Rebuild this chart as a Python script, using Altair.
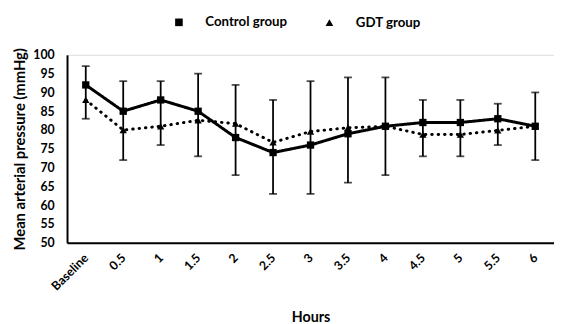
import altair as alt
import pandas as pd

hours = ["Baseline", "0.5", "1", "1.5", "2", "2.5", "3", "3.5", "4", "4.5", "5", "5.5", "6"]
control = [92, 85, 88, 85, 78, 74, 76, 79, 81, 82, 82, 83, 81]
gdt = [88, 80, 81, 82.6, 81.7, 76.7, 79.6, 80.6, 81, 78.8, 78.8, 79.9, 81]
err_high = [97, 93, 93, 95, 92, 88, 93, 94, 94, 88, 88, 87, 90]
err_low = [83, 72, 76, 73, 68, 63, 63, 66, 68, 73, 73, 76, 72]
y_ticks = [50, 55, 60, 65, 70, 75, 80, 85, 90, 95, 100]
groups = ["Control group", "GDT group"]

rows = []
for i, h in enumerate(hours):
    rows.append({"hour": h, "group": groups[0], "map": control[i]})
    rows.append({"hour": h, "group": groups[1], "map": gdt[i]})
df = pd.DataFrame(rows)
err = pd.DataFrame({"hour": hours, "low": err_low, "high": err_high})

FONT = "Lato"

x = alt.X("hour:N", sort=hours, scale=alt.Scale(type="point", padding=0.5),
          axis=alt.Axis(title="Hours", labelAngle=-45, labelAlign="right", labelBaseline="middle",
                        ticks=False, labelPadding=13, domainWidth=2, labelOverlap=False,
                        domainColor="black", labelColor="black", titleColor="black",
                        labelFontSize=12.5, labelFontWeight="bold", labelFont=FONT,
                        titleFontSize=14.5, titleFontWeight="bold", titleFont=FONT,
                        titleY=76, titleBaseline="middle"))
yscale = alt.Scale(domain=[50, 100], nice=False, zero=False)
yaxis = alt.Axis(title="Mean arterial pressure (mmHg)", values=y_ticks,
                 ticks=False, grid=False, labelPadding=13, domainWidth=2, domainColor="black",
                 labelOverlap=False, labelFlush=False, labelBound=False,
                 labelColor="black", titleColor="black", labelFontSize=12.5, labelFontWeight="bold",
                 labelFont=FONT, titleFontSize=15, titleFontWeight="bold", titleFont=FONT,
                 titlePadding=5)

def Y(field):
    return alt.Y(field, scale=yscale, axis=yaxis)

legend = alt.Legend(title=None, orient="none", legendX=107, legendY=-40, direction="horizontal",
                    labelFont=FONT, labelFontSize=13.5, labelFontWeight="bold", labelColor="black",
                    symbolFillColor="black", symbolStrokeColor="black", symbolSize=60,
                    symbolStrokeWidth=3, columnPadding=32, labelOffset=20)

base = alt.Chart(df)
lines = base.mark_line(color="black", strokeWidth=3, strokeCap="round").encode(
    x=x,
    y=Y("map:Q"),
    strokeDash=alt.StrokeDash("group:N", scale=alt.Scale(domain=groups, range=[[1, 0], [0.5, 6]]),
                              legend=legend),
    detail="group:N",
)
points = base.mark_point(filled=True, color="black", opacity=1, size=55).encode(
    x=x,
    y=Y("map:Q"),
    shape=alt.Shape("group:N", scale=alt.Scale(domain=groups, range=["square", "triangle-up"]),
                    legend=legend),
)
echart = alt.Chart(err)
rules = echart.mark_rule(color="black", strokeWidth=1.8).encode(
    x=x, y=Y("low:Q"), y2="high:Q")
tick_hi = echart.mark_tick(color="black", thickness=1.8, size=8, orient="horizontal").encode(
    x=x, y=Y("high:Q"))
tick_lo = echart.mark_tick(color="black", thickness=1.8, size=8, orient="horizontal").encode(
    x=x, y=Y("low:Q"))

chart = alt.layer(rules, tick_hi, tick_lo, lines, points).properties(
    width=495, height=191, padding={"left": 5, "right": 0, "top": 5, "bottom": 0}
).configure_view(stroke=None).configure(background="white")

chart.save("out.html", embed_options={"renderer": "svg", "actions": False})
